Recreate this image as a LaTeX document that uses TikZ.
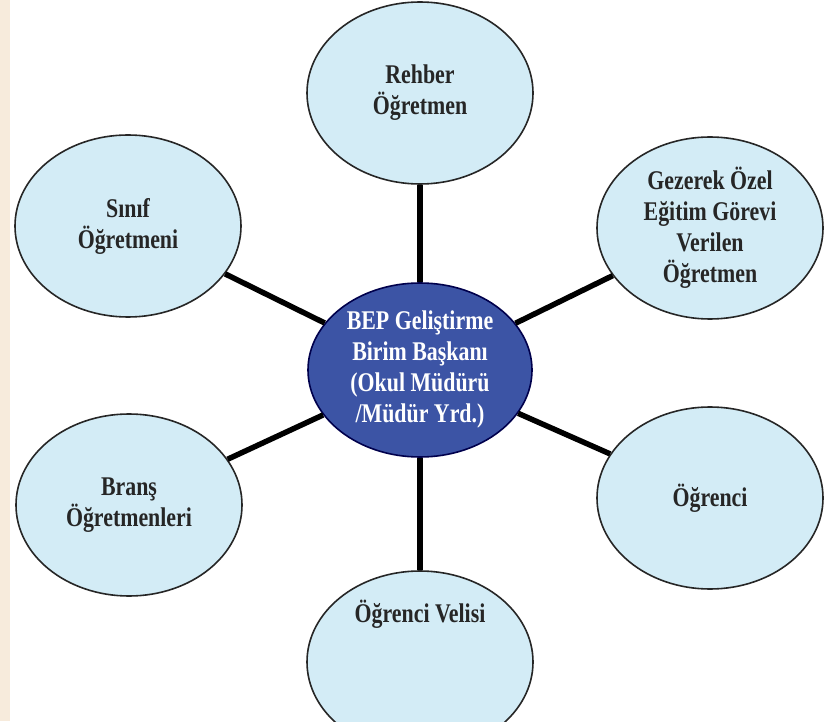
\documentclass[tikz,border=0pt]{standalone}
\usepackage{fontspec}
\setmainfont{Liberation Serif}[FakeStretch=0.81]
\usetikzlibrary{positioning,shapes.geometric}

\definecolor{acikmavi}{RGB}{211,236,246}
\definecolor{koyumavi}{RGB}{60,84,165}
\definecolor{bej}{RGB}{247,235,220}

\begin{document}
\begin{tikzpicture}[x=1pt, y=1pt,
    kutu/.style={ellipse, draw=black!85, line width=1.6pt, fill=acikmavi,
        minimum width=226pt, minimum height=182pt, inner sep=0pt, align=center,
        font=\fontsize{27}{31}\selectfont\bfseries, text=black!85},
    merkez/.style={kutu, fill=koyumavi, text=white, draw=black!70!blue,
        minimum width=224pt, minimum height=174pt},
    yazi/.style={inner sep=0pt, font=\fontsize{27}{31}\selectfont\bfseries, text=black!85},
    bag/.style={draw, line width=5.5pt}]

    \useasboundingbox (0,0) rectangle (824,721);
    \clip (0,0) rectangle (824,721);
    \path[fill=white] (0,0) rectangle (824,721);
    \path[fill=bej] (0,0) rectangle (10,721);

    % center
    \node[merkez] (bep) at (420,351) {BEP Geliştirme\\Birim Başkanı\\(Okul Müdürü\\/Müdür Yrd.)};

    % outer ellipses
    \node[kutu] (rehber)  at (420,628) {Rehber\\Öğretmen};
    \node[kutu] (sinif)   at (128,495) {Sınıf\\Öğretmeni};
    \node[kutu] (gezerek) at (710,493) {Gezerek Özel\\Eğitim Görevi\\Verilen\\Öğretmen};
    \node[kutu] (brans)   at (129,216) {Branş\\Öğretmenleri};
    \node[kutu] (ogrenci) at (710,223) {Öğrenci};
    \node[kutu] (velisi)  at (420,59) {};
    \node[yazi, below=30pt of velisi.north] (velisiyazi) {Öğrenci Velisi};

    % connectors
    \foreach \n in {rehber,sinif,gezerek,brans,ogrenci,velisi} {
        \path[bag] (bep) -- (\n);
    }

\end{tikzpicture}
\end{document}
